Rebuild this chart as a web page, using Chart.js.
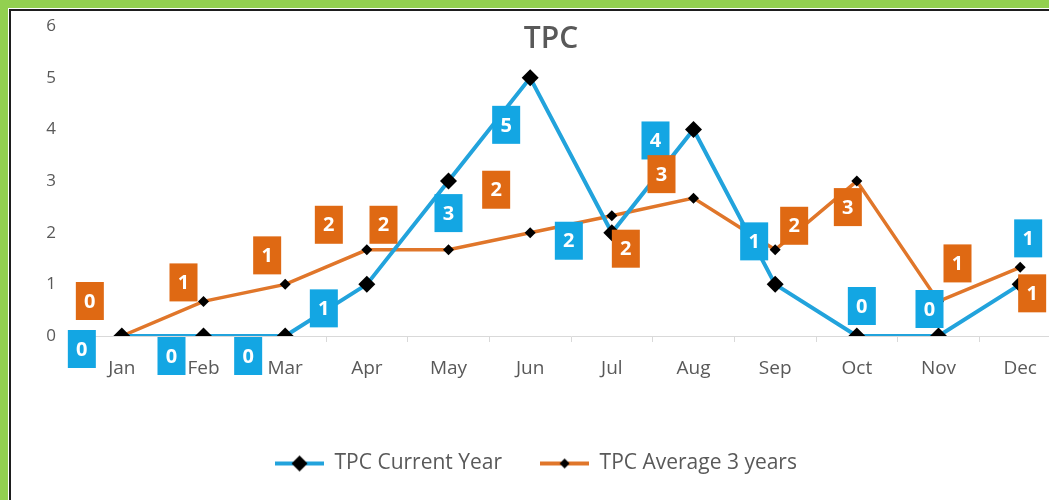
<!DOCTYPE html>
<html>
<head>
<meta charset="utf-8">
<script src="https://cdn.jsdelivr.net/npm/chart.js@4.4.1/dist/chart.umd.min.js"></script>
<style>
  html, body { margin: 0; padding: 0; overflow: hidden; }
  body { background: #92d050; width: 1049px; height: 500px; position: relative; }
  #frame { position: absolute; left: 9px; top: 9px; width: 1100px; height: 600px; background: #fff;
           border-top: 2px solid #1e1e1e; border-left: 2px solid #1e1e1e; box-shadow: -1px -1px 0 #fff; }
  #wrap { position: absolute; left: 11px; top: 11px; width: 1050px; height: 489px; }
</style>
</head>
<body>
<div id="frame"></div>
<div id="wrap"><canvas id="tpcChart" width="1050" height="489" style="width:1050px;height:489px"></canvas></div>
<script>
const months = ["Jan", "Feb", "Mar", "Apr", "May", "Jun", "Jul", "Aug", "Sep", "Oct", "Nov", "Dec"]
const currentYear = [0, 0, 0, 1, 3, 5, 2, 4, 1, 0, 0, 1]
const average3Years = [0, 0.67, 1, 1.67, 1.67, 2, 2.33, 2.67, 1.67, 3, 0.67, 1.33]
const yTicks = [0, 1, 2, 3, 4, 5, 6]

const BLUE = "#22a3dc"
const ORANGE = "#e0762a"
const TEXT = "#595959"
const FONT = "'Open Sans', sans-serif"

// where each value box sits relative to its point (placed by hand in the original)
const labelOffsets = [
    [[-40, 13], [-32, 20], [-37, 20], [-43, 24], [0, 32], [-24, 47], [-43, 8], [-38, 11], [-21, -43], [5, -30], [-9, -27], [8, -46]],
    [[-32, -35], [-20, -19], [-18, -29], [-38, -25], [-65, -25], [-34, -43], [14, 33], [-32, -24], [19, -24], [-9, 26], [19, -38], [12, 26]]
]
const boxColors = ["#13a6e3", "#df6913"]

const dataLabels = {
    id: "dataLabels",
    afterDatasetsDraw(chart) {
        const ctx = chart.ctx
        ctx.save()
        ctx.font = "bold 20px " + FONT
        ctx.textAlign = "center"
        ctx.textBaseline = "middle"
        chart.data.datasets.forEach((ds, i) => {
            chart.getDatasetMeta(i).data.forEach((pt, j) => {
                const x = pt.x + labelOffsets[i][j][0]
                const y = pt.y + labelOffsets[i][j][1]
                ctx.fillStyle = boxColors[i]
                ctx.fillRect(x - 14, y - 19, 28, 38)
                ctx.fillStyle = "#fff"
                ctx.fillText(String(Math.round(ds.data[j])), x, y + 1)
            })
        })
        ctx.restore()
    }
}

// Excel-style title that overlaps the plot area
const overlayTitle = {
    id: "overlayTitle",
    afterDraw(chart) {
        const ctx = chart.ctx
        ctx.save()
        ctx.font = "600 30px " + FONT
        ctx.fillStyle = TEXT
        ctx.textAlign = "center"
        ctx.textBaseline = "middle"
        ctx.fillText("TPC", 540, 28)
        ctx.restore()
    }
}

function legendMark(color, half) {
    const c = document.createElement("canvas")
    c.width = 49
    c.height = 18
    const g = c.getContext("2d")
    g.strokeStyle = color
    g.lineWidth = 4
    g.beginPath()
    g.moveTo(0, 9)
    g.lineTo(49, 9)
    g.stroke()
    g.fillStyle = "#000"
    g.beginPath()
    g.moveTo(24.5 - half, 9)
    g.lineTo(24.5, 9 - half)
    g.lineTo(24.5 + half, 9)
    g.lineTo(24.5, 9 + half)
    g.closePath()
    g.fill()
    return c
}
const legendMarks = [legendMark(BLUE, 8), legendMark(ORANGE, 5)]

new Chart(document.getElementById("tpcChart"), {
    type: "line",
    data: {
        labels: months,
        datasets: [{
            label: "TPC Current Year",
            data: currentYear,
            borderColor: BLUE,
            borderWidth: 4,
            pointStyle: "rectRot",
            pointRadius: 8.5,
            pointBackgroundColor: "#000",
            pointBorderColor: "#000",
            pointBorderWidth: 0,
            tension: 0
        }, {
            label: "TPC Average 3 years",
            data: average3Years,
            borderColor: ORANGE,
            borderWidth: 3.5,
            pointStyle: "rectRot",
            pointRadius: 5.5,
            pointBackgroundColor: "#000",
            pointBorderColor: "#000",
            pointBorderWidth: 0,
            tension: 0
        }]
    },
    options: {
        responsive: false,
        animation: false,
        layout: { autoPadding: false, padding: { top: 0, right: 0, bottom: 16, left: 0 } },
        scales: {
            x: {
                offset: true,
                grid: { display: true, drawOnChartArea: false, drawTicks: true, tickLength: 6, color: "#d9d9d9", offset: true },
                border: { display: true, color: "#d9d9d9", width: 1 },
                ticks: { color: TEXT, font: { family: FONT, size: 19, lineHeight: 2.8 }, padding: 0, maxRotation: 0 },
                afterFit: scale => {
                    scale.height = 79
                    scale.paddingLeft = 0
                    scale.paddingRight = 0
                }
            },
            y: {
                min: 0,
                max: 6,
                afterBuildTicks: scale => { scale.ticks = yTicks.map(v => ({ value: v })) },
                grid: { display: true, drawOnChartArea: false, drawTicks: true, tickLength: 20, color: "rgba(0,0,0,0)" },
                border: { display: false },
                ticks: { color: TEXT, font: { family: FONT, size: 17 }, padding: 5 },
                afterFit: scale => { scale.width = 70 }
            }
        },
        plugins: {
            title: { display: false },
            tooltip: { enabled: false },
            legend: {
                position: "bottom",
                labels: {
                    usePointStyle: true,
                    pointStyleWidth: 49,
                    padding: 38,
                    color: TEXT,
                    font: { family: FONT, size: 21 },
                    generateLabels: chart => Chart.defaults.plugins.legend.labels.generateLabels(chart)
                        .map((item, i) => Object.assign(item, { pointStyle: legendMarks[i] }))
                }
            }
        }
    },
    plugins: [dataLabels, overlayTitle]
})
</script>
</body>
</html>
